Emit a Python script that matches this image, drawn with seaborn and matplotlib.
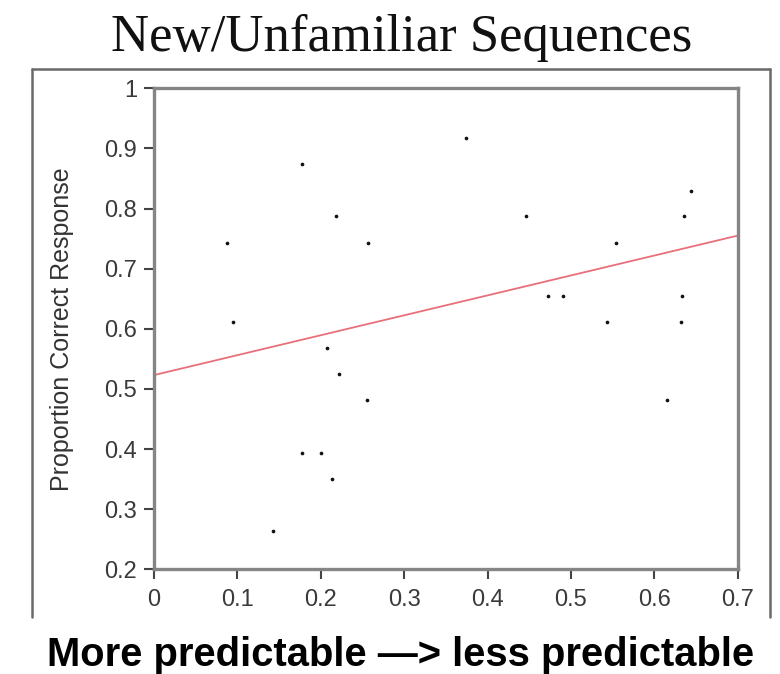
import matplotlib
matplotlib.use("Agg")
import matplotlib.pyplot as plt
from matplotlib.lines import Line2D
import seaborn as sns
import pandas as pd

# ---- data ----
predictability = [0.088, 0.095, 0.178, 0.218, 0.257, 0.208, 0.222, 0.256,
                  0.177, 0.200, 0.214, 0.143, 0.374, 0.446, 0.473, 0.490,
                  0.554, 0.543, 0.644, 0.636, 0.633, 0.632, 0.615]
proportion_correct = [0.743, 0.612, 0.874, 0.787, 0.743, 0.568, 0.524, 0.481,
                      0.393, 0.393, 0.350, 0.263, 0.917, 0.787, 0.655, 0.655,
                      0.743, 0.612, 0.830, 0.787, 0.655, 0.612, 0.481]
fit_x = [0.0, 0.7]
fit_y = [0.523, 0.755]

x_ticks = [0, 0.1, 0.2, 0.3, 0.4, 0.5, 0.6, 0.7]
x_tick_labels = ["0", "0.1", "0.2", "0.3", "0.4", "0.5", "0.6", "0.7"]
y_ticks = [0.2, 0.3, 0.4, 0.5, 0.6, 0.7, 0.8, 0.9, 1.0]
y_tick_labels = ["0.2", "0.3", "0.4", "0.5", "0.6", "0.7", "0.8", "0.9", "1"]

title_text = "New/Unfamiliar Sequences"
y_label = "Proportion Correct Response"
bottom_text = "More predictable \u2014> less predictable"

sns.set_style("white")
plt.rcParams["font.family"] = ["Liberation Sans", "DejaVu Sans"]

W, H = 780, 674
fig = plt.figure(figsize=(W / 100, H / 100), dpi=100)

def fx(px):
    return px / W

def fy(py):
    return 1 - py / H

ax_left, ax_right, ax_top, ax_bottom = 154, 737.7, 88.3, 569.3
ax = fig.add_axes([fx(ax_left), fy(ax_bottom), fx(ax_right - ax_left),
                   (ax_bottom - ax_top) / H])

df = pd.DataFrame({"x": predictability, "y": proportion_correct})
fit_df = pd.DataFrame({"x": fit_x, "y": fit_y})

sns.lineplot(data=fit_df, x="x", y="y", ax=ax, color="#e8707a", lw=1.3, zorder=2)
sns.scatterplot(data=df, x="x", y="y", ax=ax, color="#111111", s=7,
                linewidth=0, zorder=3)

ax.set_xlim(0, 0.7)
ax.set_ylim(0.2, 1.0)
ax.set_xticks(x_ticks)
ax.set_xticklabels(x_tick_labels)
ax.set_yticks(y_ticks)
ax.set_yticklabels(y_tick_labels)
ax.set_xlabel("")
ax.set_ylabel(y_label, fontsize=18, color="#333333", labelpad=22)

for side, sp in ax.spines.items():
    sp.set_visible(True)
    sp.set_color("#858585")
    sp.set_linewidth(2.4)

ax.tick_params(axis="both", which="major", direction="out", length=7,
               width=1.5, color="#444444", labelsize=17, labelcolor="#3a3a3a",
               left=True, bottom=True)
ax.tick_params(axis="y", pad=5)
ax.tick_params(axis="x", pad=7)

# outer frame (no bottom edge)
frame_col = "#6a6a6a"
fig.add_artist(Line2D([fx(32), fx(32)], [fy(617), fy(69)], color=frame_col, lw=1.8,
                      transform=fig.transFigure))
fig.add_artist(Line2D([fx(32), fx(770)], [fy(69), fy(69)], color=frame_col, lw=1.8,
                      transform=fig.transFigure))
fig.add_artist(Line2D([fx(770), fx(770)], [fy(69), fy(617)], color=frame_col, lw=1.8,
                      transform=fig.transFigure))

fig.text(fx(401.5), fy(51), title_text, ha="center", va="baseline",
         fontsize=38, family=["Liberation Serif", "DejaVu Serif"], color="#111111")
fig.text(fx(401), fy(666), bottom_text, ha="center", va="baseline",
         fontsize=28.8, fontweight="bold", family=["Liberation Sans", "DejaVu Sans"],
         color="black")

fig.savefig("out.png", dpi=100)
